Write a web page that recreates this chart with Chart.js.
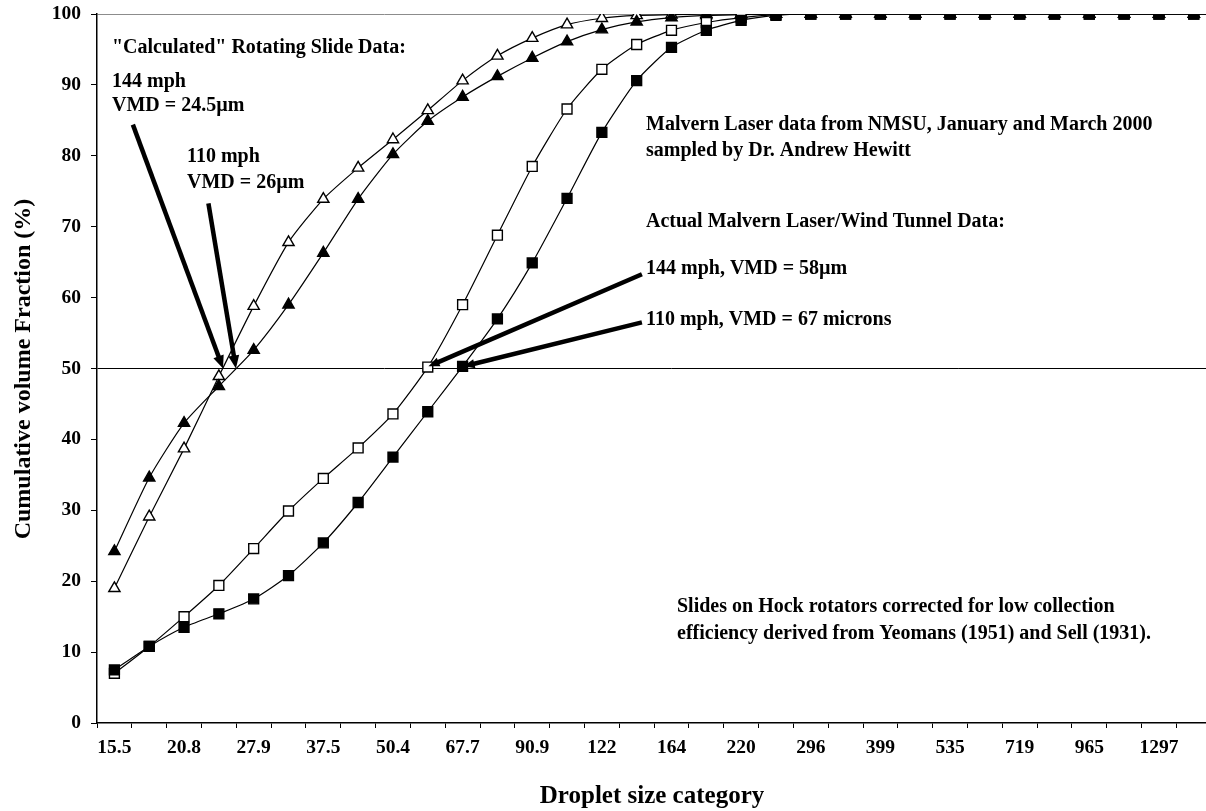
<!DOCTYPE html>
<html>
<head>
<meta charset="utf-8">
<script src="https://cdn.jsdelivr.net/npm/chart.js@4/dist/chart.umd.min.js"></script>
<style>
  html, body { margin: 0; padding: 0; background: #fff; overflow: hidden; }
  #wrap { width: 1206px; height: 811px; overflow: hidden; position: relative; }
  canvas { display: block; }
</style>
</head>
<body>
<div id="wrap"><canvas id="chart" width="1270" height="811"></canvas></div>
<script>
// Droplet size categories (every other one is labelled on the axis)
const sizeCategories = ['15.5', '18', '20.8', '24.1', '27.9', '32.3', '37.5', '43.4', '50.4', '58.4',
    '67.7', '78.4', '90.9', '105', '122', '141', '164', '190', '220', '255', '296', '343', '399',
    '462', '535', '620', '719', '833', '965', '1118', '1297', '1503', '1743'];

// "Calculated" rotating slide data
const calc144 = [19.0, 29.1, 38.7, 48.9, 58.8, 67.8, 73.9, 78.3, 82.3, 86.4, 90.6, 94.1, 96.6, 98.5,
    99.4, 99.8, 99.9, 100, 100, 100, 100, 100, 100, 100, 100, 100, 100, 100, 100, 100, 100, 100, 100];
const calc110 = [24.2, 34.6, 42.3, 47.5, 52.6, 59.0, 66.3, 73.9, 80.2, 84.9, 88.3, 91.2, 93.8, 96.1,
    97.8, 98.9, 99.5, 99.8, 99.9, 100, 100, 100, 100, 100, 100, 100, 100, 100, 100, 100, 100, 100, 100];

// Malvern laser / wind tunnel data
const malvern144 = [7.0, 10.8, 15.0, 19.4, 24.6, 29.9, 34.5, 38.8, 43.6, 50.2, 59.0, 68.8, 78.5, 86.6,
    92.2, 95.7, 97.7, 98.8, 99.5, 99.9, 100, 100, 100, 100, 100, 100, 100, 100, 100, 100, 100, 100, 100];
const malvern110 = [7.5, 10.8, 13.5, 15.4, 17.5, 20.8, 25.4, 31.1, 37.5, 43.9, 50.3, 57.0, 64.9, 74.0,
    83.3, 90.6, 95.3, 97.7, 99.1, 99.8, 100, 100, 100, 100, 100, 100, 100, 100, 100, 100, 100, 100, 100];

const yTicks = [0, 10, 20, 30, 40, 50, 60, 70, 80, 90, 100];

// text notes (pixels) and pointer arrows (category index, value)
const notes = [
    ['"Calculated" Rotating Slide Data:', 112, 48],
    ['144 mph', 112, 82],
    ['VMD = 24.5µm', 112, 106],
    ['110 mph', 187, 157],
    ['VMD = 26µm', 187, 183],
    ['Malvern Laser data from NMSU, January and March 2000', 646, 125],
    ['sampled by Dr. Andrew Hewitt', 646, 151],
    ['Actual Malvern Laser/Wind Tunnel Data:', 646, 222],
    ['144 mph, VMD = 58µm', 646, 269],
    ['110 mph, VMD = 67 microns', 646, 320],
    ['Slides on Hock rotators corrected for low collection', 677, 607],
    ['efficiency derived from Yeomans (1951) and Sell (1931).', 677, 634]
];
const arrows = [
    { from: [0.53, 84.4], to: [3.12, 50], head: 13 },
    { from: [2.70, 73.3], to: [3.49, 50], head: 13 },
    { from: [15.15, 63.3], to: [9.02, 50.3], head: 11 },
    { from: [15.15, 56.5], to: [10.03, 50.3], head: 11 }
];

const FONT = '"Liberation Serif", "Times New Roman", serif';

const notesPlugin = {
    id: 'notes',
    afterDatasetsDraw(chart) {
        const { ctx, scales: { x, y } } = chart;
        ctx.save();
        ctx.fillStyle = '#000';
        ctx.strokeStyle = '#000';
        ctx.lineCap = 'butt';
        arrows.forEach(a => {
            const x0 = x.getPixelForValue(a.from[0]), y0 = y.getPixelForValue(a.from[1]);
            const x1 = x.getPixelForValue(a.to[0]), y1 = y.getPixelForValue(a.to[1]);
            const ang = Math.atan2(y1 - y0, x1 - x0);
            const c = Math.cos(ang), s = Math.sin(ang), h = a.head, w = h * 0.42;
            ctx.lineWidth = 4.5;
            ctx.beginPath();
            ctx.moveTo(x0, y0);
            ctx.lineTo(x1 - c * h * 0.8, y1 - s * h * 0.8);
            ctx.stroke();
            ctx.beginPath();
            ctx.moveTo(x1, y1);
            ctx.lineTo(x1 - c * h + s * w, y1 - s * h - c * w);
            ctx.lineTo(x1 - c * h - s * w, y1 - s * h + c * w);
            ctx.closePath();
            ctx.fill();
        });
        ctx.restore();
    },
    afterDraw(chart) {
        const { ctx } = chart;
        ctx.save();
        ctx.fillStyle = '#000';
        ctx.textBaseline = 'middle';
        ctx.textAlign = 'left';
        ctx.font = 'bold 20px ' + FONT;
        notes.forEach(([t, px, py]) => ctx.fillText(t, px, py));

        // axis titles
        ctx.textAlign = 'center';
        ctx.font = 'bold 25px ' + FONT;
        ctx.fillText('Droplet size category', 652, 797);
        ctx.font = 'bold 24px ' + FONT;
        ctx.translate(24, 369);
        ctx.rotate(-Math.PI / 2);
        ctx.fillText('Cumulative volume Fraction (%)', 0, 0);
        ctx.restore();
    }
};

function series(data, style, fill, radius) {
    return {
        data: data,
        borderColor: '#000',
        borderWidth: 1.2,
        tension: 0.2,
        pointStyle: style,
        pointRadius: radius,
        pointBackgroundColor: fill,
        pointBorderColor: '#000',
        pointBorderWidth: 1.4
    };
}

const ctx = document.getElementById('chart').getContext('2d');
const chart = new Chart(ctx, {
    type: 'line',
    data: {
        labels: sizeCategories,
        datasets: [
            series(malvern110, 'rect', '#000', 7),
            series(malvern144, 'rect', '#fff', 7),
            series(calc110, 'triangle', '#000', 6.5),
            series(calc144, 'triangle', '#fff', 6.5)
        ]
    },
    options: {
        responsive: false,
        animation: false,
        layout: { padding: { left: 0, right: 24, top: 14, bottom: 0 } },
        plugins: {
            legend: { display: false },
            tooltip: { enabled: false }
        },
        scales: {
            x: {
                type: 'category',
                offset: true,
                afterFit: (scale) => {
                    scale.height = 88;
                    scale.paddingLeft = 0;
                    scale.paddingRight = 0;
                },
                grid: {
                    offset: true,
                    drawOnChartArea: false,
                    drawTicks: true,
                    tickLength: 5,
                    color: '#000',
                    tickColor: '#000'
                },
                border: { color: '#000', width: 1.5 },
                ticks: {
                    autoSkip: false,
                    maxRotation: 0,
                    padding: 8,
                    color: '#000',
                    font: { family: FONT, size: 19.5, weight: 'bold' },
                    callback: function (value, index) {
                        return index % 2 === 0 ? this.getLabelForValue(value) : '';
                    }
                }
            },
            y: {
                min: 0,
                max: 100,
                afterFit: (scale) => {
                    scale.width = 97;
                    scale.paddingTop = 0;
                    scale.paddingBottom = 0;
                },
                afterBuildTicks: (scale) => { scale.ticks = yTicks.map(v => ({ value: v })); },
                grid: {
                    drawTicks: true,
                    tickLength: 6,
                    tickColor: '#000',
                    lineWidth: 1,
                    color: (c) => c.tick.value === 50 ? '#000' : (c.tick.value === 100 ? '#8c8c8c' : 'rgba(0,0,0,0)')
                },
                border: { color: '#000', width: 1.5 },
                ticks: {
                    padding: 10,
                    color: '#000',
                    font: { family: FONT, size: 19.5, weight: 'bold' }
                }
            }
        }
    },
    plugins: [notesPlugin]
});
</script>
</body>
</html>
